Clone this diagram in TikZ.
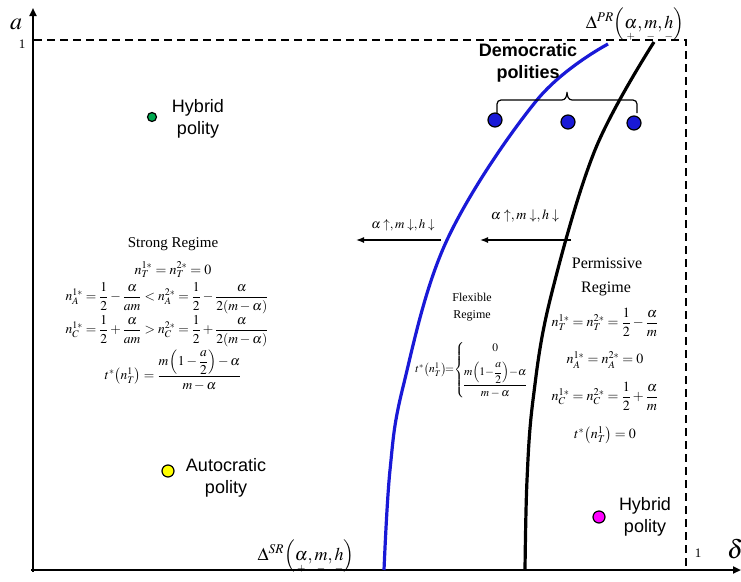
\documentclass[tikz,border=0pt]{standalone}
\usepackage{amsmath}
\usepackage{mathptmx}
\usepackage[no-math]{fontspec}
\setmainfont{Liberation Serif}
\setsansfont{Liberation Sans}
\usetikzlibrary{arrows.meta}
\definecolor{cblue}{RGB}{25,25,215}
\definecolor{cgreen}{RGB}{0,170,80}
\definecolor{cyellow}{RGB}{255,255,0}
\definecolor{cmagenta}{RGB}{255,0,255}
\newcommand{\fs}[1]{\fontsize{#1}{#1}\selectfont}
\tikzset{
  axisline/.style={line width=2.6pt,-{Triangle[length=8pt,width=7pt]}},
  dashline/.style={line width=2.4pt,dash pattern=on 8pt off 5pt},
  curveblue/.style={cblue,line width=3.2pt},
  curveblack/.style={black,line width=3.2pt},
  shiftarrow/.style={line width=1.4pt,-{Latex[length=8pt,width=6pt]}},
  dot/.style={circle,draw=black,line width=1.2pt,inner sep=0pt,minimum size=#1},
  lbl/.style={font=\sffamily\fontsize{18}{22}\selectfont,align=center,inner sep=0pt},
  eq/.style={inner sep=0pt,align=center},
}
\begin{document}
\begin{tikzpicture}[x=1pt,y=-1pt]
\useasboundingbox (0,0) rectangle (741,581);
% axes
\coordinate (o) at (33,570);
\coordinate (ytop) at (33,8);
\coordinate (xend) at (741,570);
\draw[axisline] (33,572) -- (ytop);
\draw[axisline] (31,570) -- (xend);
\node[inner sep=0pt] (alab) at (16,24) {\fs{24}$a$};
\node[inner sep=0pt,anchor=west] (dlab) at (727,549) {\fs{26}$\delta$};
\node[inner sep=0pt] (one1) at (22,44) {\fs{13}1};
\node[inner sep=0pt] (one2) at (698,553) {\fs{13}1};
% dashed box
\coordinate (d1) at (34,40);
\coordinate (d2) at (686,40);
\coordinate (d3) at (686,566);
\draw[dashline] (d1) -- (d2) -- (d3);
% curves
\draw[curveblue] plot[smooth,tension=0.6] coordinates {(384,570) (390,470) (403,387) (447,240) (537,100) (608,44)};
\draw[curveblack] plot[smooth,tension=0.6] coordinates {(525,570) (527,480) (533,400) (550,300) (595,150) (654,42)};
% shift arrows
\coordinate (a1s) at (441,240);
\coordinate (a1e) at (356,240);
\coordinate (a2s) at (571,240);
\coordinate (a2e) at (480,240);
\draw[shiftarrow] (a1s) -- (a1e);
\draw[shiftarrow] (a2s) -- (a2e);
\node[eq] (s1) at (403,225) {\fs{13}$\alpha\uparrow,m\downarrow,h\downarrow$};
\node[eq] (s2) at (525,216) {\fs{14}$\alpha\uparrow,m\downarrow,h\downarrow$};
% Democratic
\node[lbl,font=\sffamily\bfseries\fontsize{18}{22}\selectfont] (dem) at (528,63) {Democratic\\polities};
\draw[line width=1.2pt] (497,113) -- (497,104) to[out=90,in=180] (501,100) -- (562,100) to[out=0,in=-90] (567,92) to[out=-90,in=180] (572,100) -- (633,100) to[out=0,in=90] (637,104) -- (637,113);
\node[dot=14pt,fill=cblue] (b1) at (495,120) {};
\node[dot=14pt,fill=cblue] (b2) at (568,122) {};
\node[dot=14pt,fill=cblue] (b3) at (634,123) {};
% polities
\node[dot=9pt,fill=cgreen] (g) at (152,117) {};
\node[lbl] (hyb1) at (198,119) {Hybrid\\polity};
\node[dot=12pt,fill=cyellow] (y) at (168,471) {};
\node[lbl] (aut) at (226,478) {Autocratic\\polity};
\node[dot=12pt,fill=cmagenta] (mg) at (599,517) {};
\node[lbl] (hyb2) at (645,517) {Hybrid\\polity};
% Delta labels
\node[eq] (dpr) at (635,25) {\fs{18}$\Delta^{PR}\Bigl(\underset{\scriptscriptstyle +}{\alpha},\underset{\scriptscriptstyle -}{m},\underset{\scriptscriptstyle -}{h}\Bigr)$};
\node[eq] (dsr) at (306,557) {\fs{18}$\Delta^{SR}\Bigl(\underset{\scriptscriptstyle +}{\alpha},\underset{\scriptscriptstyle -}{m},\underset{\scriptscriptstyle -}{h}\Bigr)$};
% Strong regime
\node[eq] (sr0) at (173,244) {\fs{15}Strong Regime};
\node[eq] (sr1) at (173,270) {\fs{14}$n_T^{1*}=n_T^{2*}=0$};
\node[eq] (sr2) at (167,298) {\fs{13.5}$n_A^{1*}=\dfrac{1}{2}-\dfrac{\alpha}{am}<n_A^{2*}=\dfrac{1}{2}-\dfrac{\alpha}{2(m-\alpha)}$};
\node[eq] (sr3) at (167,331) {\fs{13.5}$n_C^{1*}=\dfrac{1}{2}+\dfrac{\alpha}{am}>n_C^{2*}=\dfrac{1}{2}+\dfrac{\alpha}{2(m-\alpha)}$};
\node[eq] (sr4) at (173,370) {\fs{13.5}$t^*\bigl(n_T^1\bigr)=\dfrac{m\left(1-\dfrac{a}{2}\right)-\alpha}{m-\alpha}$};
% Flexible regime
\node[eq] (fr0) at (472,297) {\fs{12}Flexible};
\node[eq] (fr1) at (472,316) {\fs{12}Regime};
\node[eq] (fr2) at (472,370) {\fs{11.5}$t^*\bigl(n_T^1\bigr)\!{=}\!\left\{\!\begin{array}{@{}c@{}}0\\[8pt]\dfrac{m\!\left(1{-}\dfrac{a}{2}\right)\!{-}\alpha}{m-\alpha}\end{array}\right.$};
% Permissive regime
\node[eq] (pr0) at (607,263) {\fs{16}Permissive};
\node[eq] (pr1) at (606,289) {\fs{16}Regime};
\node[eq] (pr2) at (605,322) {\fs{14}$n_T^{1*}=n_T^{2*}=\dfrac{1}{2}-\dfrac{\alpha}{m}$};
\node[eq] (pr3) at (605,360) {\fs{14}$n_A^{1*}=n_A^{2*}=0$};
\node[eq] (pr4) at (605,396) {\fs{14}$n_C^{1*}=n_C^{2*}=\dfrac{1}{2}+\dfrac{\alpha}{m}$};
\node[eq] (pr5) at (605,435) {\fs{14}$t^*\bigl(n_T^1\bigr)=0$};
\end{tikzpicture}
\end{document}
